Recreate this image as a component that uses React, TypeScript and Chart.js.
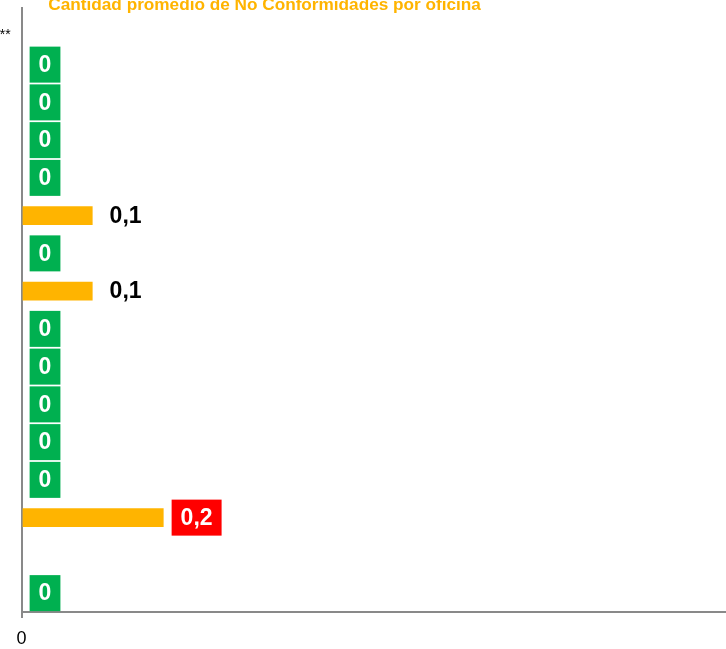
import React, { useEffect, useRef } from 'react';
import { Chart, registerables } from 'chart.js';

Chart.register(...registerables);

const TITLE = 'Cantidad promedio de No Conformidades por oficina';

const categories: (string | string[])[] = [
  ['Promedio general de todas', 'las oficinas de la entidad a nivel nacional**'],
  'Oficina Bogotá Norte',
  'Oficina Bogotá Centro',
  'Oficina Bogotá Sur',
  'Oficina Medellín',
  'Oficina Cali',
  'Oficina Barranquilla',
  'Oficina Cartagena',
  'Oficina Bucaramanga',
  'Oficina Pereira',
  'Oficina Manizales',
  'Oficina Cúcuta',
  'Oficina Ibagué',
  'Oficina Villavicencio',
  '',
  'Total Nacional',
];

const values: (number | null)[] = [null, 0, 0, 0, 0, 0.1, 0, 0.1, 0, 0, 0, 0, 0, 0.2, null, 0];

const xMin = 0;
const xMax = 1;
const xStep = 1;

const FONT = "'Liberation Sans', Arial, Helvetica, sans-serif";
const C_BAR = '#FFB400';
const C_TITLE = '#FFB400';
const C_GREEN = '#00B050';
const C_RED = '#FF0000';
const C_AXIS = '#898989';

const fmt = (v: number) => String(v).replace('.', ',');

const valueLabels = {
  id: 'valueLabels',
  afterDatasetsDraw(chart: any) {
    const { ctx } = chart;
    const meta = chart.getDatasetMeta(0);
    const data = chart.data.datasets[0].data as (number | null)[];
    ctx.save();
    ctx.font = `bold 23px ${FONT}`;
    ctx.textBaseline = 'middle';
    ctx.textAlign = 'left';
    meta.data.forEach((el: any, i: number) => {
      const v = data[i];
      if (v == null) return;
      const text = fmt(v);
      const tw = ctx.measureText(text).width;
      const padX = 9;
      const h = 36;
      const x0 = el.x + 8;
      const y = el.y;
      let bg: string | null = null;
      let fg = '#000000';
      if (v === 0) {
        bg = C_GREEN;
        fg = '#FFFFFF';
      } else if (v >= 0.2) {
        bg = C_RED;
        fg = '#FFFFFF';
      }
      if (bg) {
        ctx.fillStyle = bg;
        ctx.fillRect(x0, y - h / 2, tw + padX * 2, h);
      }
      ctx.fillStyle = fg;
      ctx.fillText(text, x0 + padX, y + 1);
    });
    ctx.restore();
  },
};

const topTitle = {
  id: 'topTitle',
  afterDraw(chart: any) {
    const { ctx, chartArea } = chart;
    ctx.save();
    ctx.font = `bold 17.2px ${FONT}`;
    ctx.fillStyle = C_TITLE;
    ctx.textAlign = 'center';
    ctx.textBaseline = 'alphabetic';
    ctx.fillText(TITLE, chartArea.left + 243, chartArea.top + 1.5);
    ctx.restore();
  },
};

export default function App() {
  const ref = useRef<HTMLCanvasElement | null>(null);

  useEffect(() => {
    const canvas = ref.current!;
    const W = 1200;
    const H = 720;
    canvas.width = W;
    canvas.height = H;
    canvas.style.width = W + 'px';
    canvas.style.height = H + 'px';

    const chart = new Chart(canvas, {
      type: 'bar',
      data: {
        labels: categories,
        datasets: [
          {
            data: values,
            backgroundColor: C_BAR,
            borderWidth: 0,
            barPercentage: 0.5,
            categoryPercentage: 1,
          },
        ],
      },
      options: {
        indexAxis: 'y',
        responsive: false,
        animation: false,
        layout: { padding: { left: 0, right: 0, top: 14, bottom: 0 } },
        plugins: {
          legend: { display: false },
          tooltip: { enabled: false },
          title: { display: false },
        },
        scales: {
          x: {
            min: xMin,
            max: xMax,
            ticks: {
              stepSize: xStep,
              color: '#000000',
              font: { size: 18, family: FONT },
              padding: 10,
              callback: (v: any) => fmt(Number(v)),
            },
            grid: {
              display: true,
              drawOnChartArea: false,
              drawTicks: true,
              tickLength: 6,
              color: C_AXIS,
              lineWidth: 2,
            },
            border: { display: true, color: C_AXIS, width: 2 },
          },
          y: {
            ticks: {
              crossAlign: 'far',
              color: '#000000',
              font: { size: 14, family: FONT },
              padding: 1.5,
              autoSkip: false,
            },
            grid: { display: false },
            border: { display: true, color: C_AXIS, width: 2 },
          },
        },
      } as any,
      plugins: [valueLabels, topTitle],
    });

    const a = chart.chartArea.left;
    const t = chart.chartArea.top;
    const xh = chart.height - chart.chartArea.bottom;
    const padRight = Math.max(0, W - a - 710);
    const padBottom = Math.max(0, H - (t + 604) - xh);
    (chart.options as any).layout.padding = { left: 0, right: padRight, top: 14, bottom: padBottom };
    chart.update();

    canvas.style.left = `${Math.round(22 - chart.chartArea.left)}px`;
    canvas.style.top = `${Math.round(8 - chart.chartArea.top)}px`;

    return () => chart.destroy();
  }, []);

  return (
    <div
      style={{
        position: 'fixed',
        left: 0,
        top: 0,
        width: 726,
        height: 649,
        overflow: 'hidden',
        background: '#FFFFFF',
      }}
    >
      <canvas ref={ref} style={{ position: 'absolute', left: 0, top: 0 }} />
    </div>
  );
}
